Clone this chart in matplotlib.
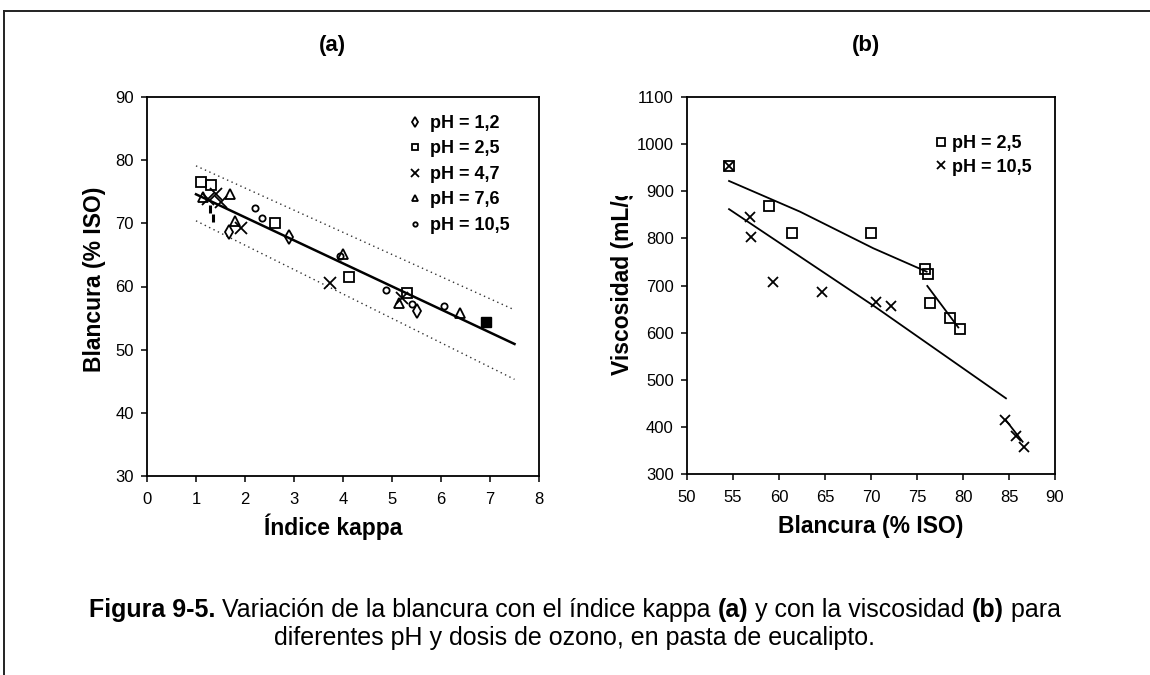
import numpy as np
import matplotlib
matplotlib.use("Agg")
import matplotlib.pyplot as plt
from matplotlib.lines import Line2D
from matplotlib.transforms import Bbox, TransformedBbox

plt.rcParams['font.family'] = ['Liberation Sans', 'DejaVu Sans']

# --- datos panel (a): blancura frente a índice kappa ---
kappa_ph12 = [1.68, 2.89, 5.50]
blanc_ph12 = [68.6, 67.9, 56.2]
kappa_ph25 = [1.10, 1.31, 2.61, 4.12, 5.31]
blanc_ph25 = [76.5, 76.1, 70.0, 61.5, 58.9]
kappa_ph47 = [1.25, 1.41, 1.50, 1.92, 3.73, 5.20]
blanc_ph47 = [73.8, 74.6, 73.3, 69.2, 60.5, 58.2]
kappa_ph76 = [1.15, 1.69, 1.80, 4.01, 5.15, 6.39]
blanc_ph76 = [74.2, 74.7, 70.3, 65.2, 57.4, 55.8]
kappa_ph105 = [2.20, 2.35, 3.94, 4.88, 5.41, 6.07]
blanc_ph105 = [72.4, 70.8, 64.8, 59.4, 57.2, 56.9]
kappa_ref = [6.91]          # punto relleno
blanc_ref = [54.4]
kappa_barra = [1.28, 1.35]  # marcas verticales sueltas
blanc_barra = [72.3, 70.8]

# recta de ajuste y bandas (extremos)
kappa_ajuste = [1.0, 7.5]
blanc_ajuste = [74.6, 50.9]
blanc_sup = [79.1, 56.3]
blanc_inf = [70.4, 45.3]

# --- datos panel (b): viscosidad frente a blancura ---
blanc_b25 = [54.6, 58.95, 61.4, 70.0, 75.9, 76.2, 76.4, 78.6, 79.7]
visc_b25 = [954, 869, 812, 811, 734, 725, 662, 632, 607]
blanc_b105 = [54.6, 56.8, 56.96, 59.3, 64.7, 70.5, 72.2, 84.6, 85.8, 86.6]
visc_b105 = [954, 846, 802, 708, 687, 666, 656, 415, 381, 357]

# tendencias dibujadas
tend25_x = [54.57, 62.28, 70.25, 76.05]
tend25_y = [921.8, 856.7, 779.0, 729.3]
tend25b_x = [76.12, 79.49]
tend25b_y = [699.0, 611.0]
tend105_x = [54.57, 70.43, 84.67]
tend105_y = [862.0, 655.0, 460.6]
tend105b_x = [84.64, 86.48]
tend105b_y = [414.6, 368.5]

etiquetas_a = ['pH = 1,2', 'pH = 2,5', 'pH = 4,7', 'pH = 7,6', 'pH = 10,5']
etiquetas_b = ['pH = 2,5', 'pH = 10,5']

W, H = 1150, 675
fig = plt.figure(figsize=(W / 100, H / 100), dpi=100)

ax1 = fig.add_axes([147 / W, 1 - 476 / H, 392 / W, 379 / H])
ax2 = fig.add_axes([687 / W, 1 - 474 / H, 368 / W, 377 / H])

estilo = dict(linestyle='none', color='black', markerfacecolor='none', markeredgewidth=1.3)

# ---------- panel (a) ----------
ax1.plot(kappa_ajuste, blanc_ajuste, color='black', lw=1.8, zorder=2)
ax1.plot(kappa_ajuste, blanc_sup, color='#333333', lw=1.0, ls=(0, (1, 2.5)), zorder=2)
ax1.plot(kappa_ajuste, blanc_inf, color='#333333', lw=1.0, ls=(0, (1, 2.5)), zorder=2)

h1, = ax1.plot(kappa_ph12, blanc_ph12, marker='d', markersize=7, **estilo)
h2, = ax1.plot(kappa_ph25, blanc_ph25, marker='s', markersize=7, **estilo)
h3, = ax1.plot(kappa_ph47, blanc_ph47, marker='x', markersize=8.5, **estilo)
h4, = ax1.plot(kappa_ph76, blanc_ph76, marker='^', markersize=7, **estilo)
h5, = ax1.plot(kappa_ph105, blanc_ph105, marker='o', markersize=4.5, **estilo)
ax1.plot(kappa_ref, blanc_ref, linestyle='none', marker='s', markersize=7,
         color='black', markerfacecolor='black')
ax1.plot(kappa_barra, blanc_barra, linestyle='none', marker='|', markersize=6,
         color='black', markeredgewidth=2.2)

ax1.set_xlim(0, 8)
ax1.set_ylim(30, 90)
ax1.set_xticks(range(0, 9))
ax1.set_yticks(range(30, 91, 10))
ax1.set_xlabel('Índice kappa', fontsize=16.5, fontweight='bold')
ax1.set_ylabel('Blancura (% ISO)', fontsize=16.5, fontweight='bold')
ax1.xaxis.label.set_verticalalignment('center')
ax1.yaxis.label.set_verticalalignment('center')
ax1.xaxis.set_label_coords((333 - 147) / 392, (476 - 527) / 379)
ax1.yaxis.set_label_coords((95 - 147) / 392, (476 - 279) / 379)

ax1.legend([h1, h2, h3, h4, h5], etiquetas_a, loc='upper left',
           bbox_to_anchor=((406 - 147) / 392, (476 - 115) / 379),
           frameon=False, borderpad=0, borderaxespad=0, handlelength=1.0,
           handletextpad=0.35, labelspacing=0.47, markerscale=0.7,
           prop={'size': 13, 'weight': 'bold'})

# ---------- panel (b) ----------
ax2.plot(tend25_x, tend25_y, color='black', lw=1.3)
ax2.plot(tend25b_x, tend25b_y, color='black', lw=1.3)
ax2.plot(tend105_x, tend105_y, color='black', lw=1.3)
ax2.plot(tend105b_x, tend105b_y, color='black', lw=1.3)

g1, = ax2.plot(blanc_b25, visc_b25, marker='s', markersize=7, **estilo)
g2, = ax2.plot(blanc_b105, visc_b105, marker='x', markersize=7.5, **estilo)

ax2.set_xlim(50, 90)
ax2.set_ylim(300, 1100)
ax2.set_xticks(range(50, 91, 5))
ax2.set_yticks(range(300, 1101, 100))
ax2.set_xlabel('Blancura (% ISO)', fontsize=16.5, fontweight='bold')
ylab = ax2.set_ylabel('Viscosidad (mL/g)', fontsize=16.5, fontweight='bold')
ax2.xaxis.label.set_verticalalignment('center')
ax2.yaxis.label.set_verticalalignment('center')
ax2.xaxis.set_label_coords(0.5, (474 - 527) / 377)
ax2.yaxis.set_label_coords((622 - 687) / 377 * 377 / 368, (474 - 277) / 377)
# la etiqueta aparece cortada por arriba en el original
ylab.set_clip_on(True)
ylab.set_clip_box(TransformedBbox(Bbox([[0, 0], [1, 1 - 196 / H]]), fig.transFigure))

ax2.legend([g1, g2], etiquetas_b, loc='upper left',
           bbox_to_anchor=((932 - 687) / 368, (474 - 135) / 377),
           frameon=False, borderpad=0, borderaxespad=0, handlelength=1.0,
           handletextpad=0.1, labelspacing=0.37, markerscale=0.8,
           prop={'size': 13, 'weight': 'bold'})

for ax in (ax1, ax2):
    for s in ax.spines.values():
        s.set_linewidth(1.3)
    ax.tick_params(direction='out', length=4.5, width=1.1, labelsize=12,
                   colors='black')
    ax.tick_params(axis='x', pad=7)
    ax.tick_params(axis='y', pad=5)

# títulos de panel
fig.text(332 / W, 1 - 45 / H, '(a)', fontsize=16, fontweight='bold', ha='center', va='center')
fig.text(866 / W, 1 - 45 / H, '(b)', fontsize=16, fontweight='bold', ha='center', va='center')

# marco exterior (solo arriba e izquierda visibles)
fig.add_artist(Line2D([4 / W, 1.0], [1 - 11 / H, 1 - 11 / H], transform=fig.transFigure,
                      color='#222222', lw=1.4))
fig.add_artist(Line2D([4 / W, 4 / W], [0.0, 1 - 11 / H], transform=fig.transFigure,
                      color='#222222', lw=1.4))


# pie de figura con trozos en negrita
def texto_mixto(y, piezas, size):
    r = fig.canvas.get_renderer()
    objs = []
    total = 0.0
    for s, w in piezas:
        t = fig.text(0, y, s, fontsize=size, fontweight=w, ha='left', va='center')
        ancho = t.get_window_extent(renderer=r).width
        objs.append((t, ancho))
        total += ancho
    x = (fig.bbox.width - total) / 2
    for t, ancho in objs:
        t.set_x(x / fig.bbox.width)
        x += ancho


linea1 = [('Figura 9-5.', 'bold'),
          (' Variación de la blancura con el índice kappa ', 'normal'),
          ('(a)', 'bold'),
          (' y con la viscosidad ', 'normal'),
          ('(b)', 'bold'),
          (' para', 'normal')]
linea2 = [('diferentes pH y dosis de ozono, en pasta de eucalipto.', 'normal')]
texto_mixto(1 - 610 / H, linea1, 18)
texto_mixto(1 - 638 / H, linea2, 18)

fig.savefig('out.png', dpi=100)
